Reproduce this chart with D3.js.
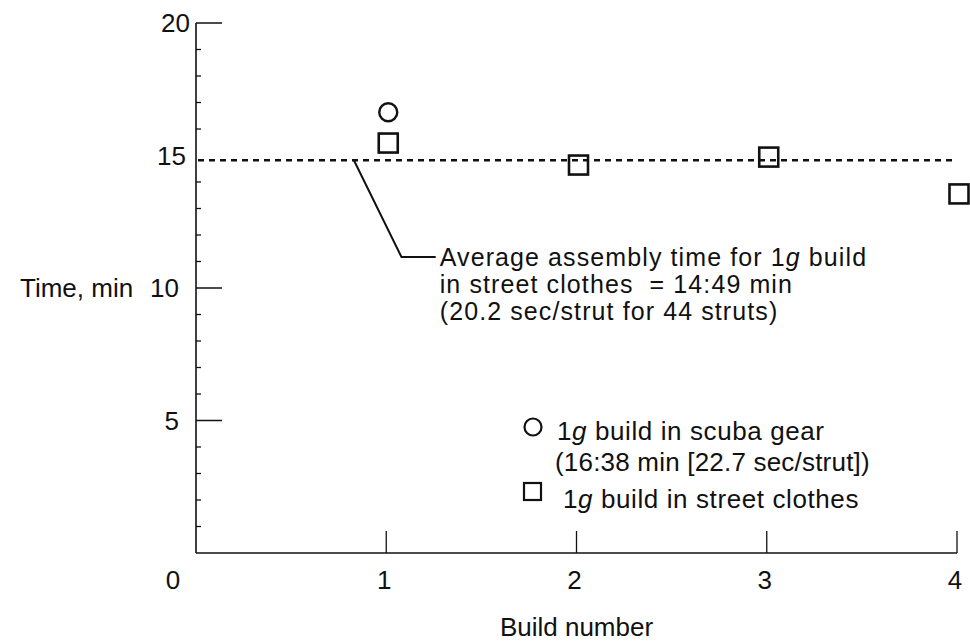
<!DOCTYPE html>
<html>
<head>
<meta charset="utf-8">
<script src="https://cdn.jsdelivr.net/npm/d3@7"></script>
<style>
  html, body { margin: 0; padding: 0; background: #fff; }
  svg { display: block; }
  text { font-family: "Liberation Sans", Arial, Helvetica, sans-serif; fill: #111; }
</style>
</head>
<body>
<svg id="chart" width="970" height="643"></svg>
<script>
// ---- data ----
const xTicks = [0, 1, 2, 3, 4];
const yMajorTicks = [0, 5, 10, 15, 20];
const yMinorTicks = d3.range(1, 20);
const scubaBuilds = [1];
const scubaTimes = [16.63];
const streetBuilds = [1, 2, 3, 4];
const streetTimes = [15.47, 14.64, 14.94, 13.55];
const averageTime = 14.82;      // 14:49 min
const averageSpan = [0, 4.0];
const leaderBuild = [0.83, 1.08, 1.26];
const leaderTime = [14.82, 11.17, 11.17];
const annotationLines = [
  ["Average assembly time for 1", "g", " build"],
  ["in street clothes  = 14:49 min"],
  ["(20.2 sec/strut for 44 struts)"]
];
const legendScuba = [["1", "g", " build in scuba gear"], ["(16:38 min [22.7 sec/strut])"]];
const legendStreet = [["1", "g", " build in street clothes"]];

// ---- layout ----
const svg = d3.select("#chart");
const x = d3.scaleLinear().domain([0, 4]).range([196, 957]);
const y = d3.scaleLinear().domain([0, 20]).range([553, 23]);
const ink = "#111";

// axes lines
svg.append("line").attr("x1", x(0)).attr("x2", x(0)).attr("y1", y(20)).attr("y2", y(0))
  .attr("stroke", ink).attr("stroke-width", 1.6);
svg.append("line").attr("x1", x(0)).attr("x2", x(4)).attr("y1", y(0)).attr("y2", y(0))
  .attr("stroke", ink).attr("stroke-width", 1.6);

// y minor ticks
svg.append("g").selectAll("line").data(yMinorTicks.filter(d => d % 5 !== 0)).join("line")
  .attr("x1", x(0)).attr("x2", x(0) + 5).attr("y1", d => y(d)).attr("y2", d => y(d))
  .attr("stroke", ink).attr("stroke-width", 1.3);
// y major ticks
svg.append("g").selectAll("line").data(yMajorTicks.filter(d => d > 0 && d !== 15)).join("line")
  .attr("x1", x(0)).attr("x2", x(0) + 26).attr("y1", d => y(d)).attr("y2", d => y(d))
  .attr("stroke", ink).attr("stroke-width", 1.5);
// y labels
svg.append("g").selectAll("text").data(yMajorTicks.filter(d => d > 0)).join("text")
  .attr("x", d => x(0) - (d === 20 ? 6 : d === 15 ? 10 : 17)).attr("y", d => y(d) + 9)
  .attr("text-anchor", "end").attr("font-size", 26).text(d => d);

// x ticks
svg.append("g").selectAll("line").data(xTicks.filter(d => d > 0)).join("line")
  .attr("x1", d => x(d)).attr("x2", d => x(d)).attr("y1", y(0)).attr("y2", y(0) - 22)
  .attr("stroke", ink).attr("stroke-width", 1.3);
svg.append("g").selectAll("text").data(xTicks).join("text")
  .attr("x", d => d === 0 ? x(0) - 23 : x(d) - 2).attr("y", 589)
  .attr("text-anchor", "middle").attr("font-size", 26).text(d => d);

// axis titles
svg.append("text").attr("x", 20).attr("y", y(10) + 9).attr("font-size", 26).text("Time, min");
svg.append("text").attr("x", x(2)).attr("y", 636).attr("text-anchor", "middle")
  .attr("font-size", 26).text("Build number");

// average dashed line
svg.append("line").attr("x1", x(averageSpan[0]) + 2).attr("x2", x(averageSpan[1]))
  .attr("y1", y(averageTime)).attr("y2", y(averageTime))
  .attr("stroke", ink).attr("stroke-width", 2.4).attr("stroke-dasharray", "6,5");

// leader line
const leader = d3.line().x(d => x(d[0])).y(d => y(d[1]));
svg.append("path").attr("d", leader(d3.zip(leaderBuild, leaderTime)))
  .attr("fill", "none").attr("stroke", ink).attr("stroke-width", 2);

function richText(g, parts, px, py, size, ls) {
  const t = g.append("text").attr("x", px).attr("y", py).attr("font-size", size)
    .attr("letter-spacing", ls).attr("xml:space", "preserve");
  parts.forEach((p, i) => {
    t.append("tspan").text(p).attr("font-style", (parts.length > 1 && i === 1) ? "italic" : null);
  });
  return t;
}

// annotation
const ax = x(leaderBuild[2]) + 4, ay = y(leaderTime[2]) + 9;
annotationLines.forEach((ln, i) => richText(svg, ln, ax, ay + i * 27, 25, 1.1));

// markers
svg.append("g").selectAll("circle").data(d3.zip(scubaBuilds, scubaTimes)).join("circle")
  .attr("cx", d => x(d[0]) + 2).attr("cy", d => y(d[1])).attr("r", 9)
  .attr("fill", "none").attr("stroke", ink).attr("stroke-width", 2.4);
svg.append("g").selectAll("rect").data(d3.zip(streetBuilds, streetTimes)).join("rect")
  .attr("x", d => x(d[0]) + 2 - 9.5).attr("y", d => y(d[1]) - 9.5)
  .attr("width", 19).attr("height", 19)
  .attr("fill", "none").attr("stroke", ink).attr("stroke-width", 2.6);

// legend
const lg = svg.append("g");
lg.append("circle").attr("cx", 533).attr("cy", 427).attr("r", 8.5)
  .attr("fill", "none").attr("stroke", ink).attr("stroke-width", 2.2);
richText(lg, legendScuba[0], 557, 440, 26, 0.6);
richText(lg, legendScuba[1], 555, 471, 26, 0.2);
lg.append("rect").attr("x", 524).attr("y", 483).attr("width", 17).attr("height", 17)
  .attr("fill", "none").attr("stroke", ink).attr("stroke-width", 2.2);
richText(lg, legendStreet[0], 563, 508, 26, 0.6);
</script>
</body>
</html>
